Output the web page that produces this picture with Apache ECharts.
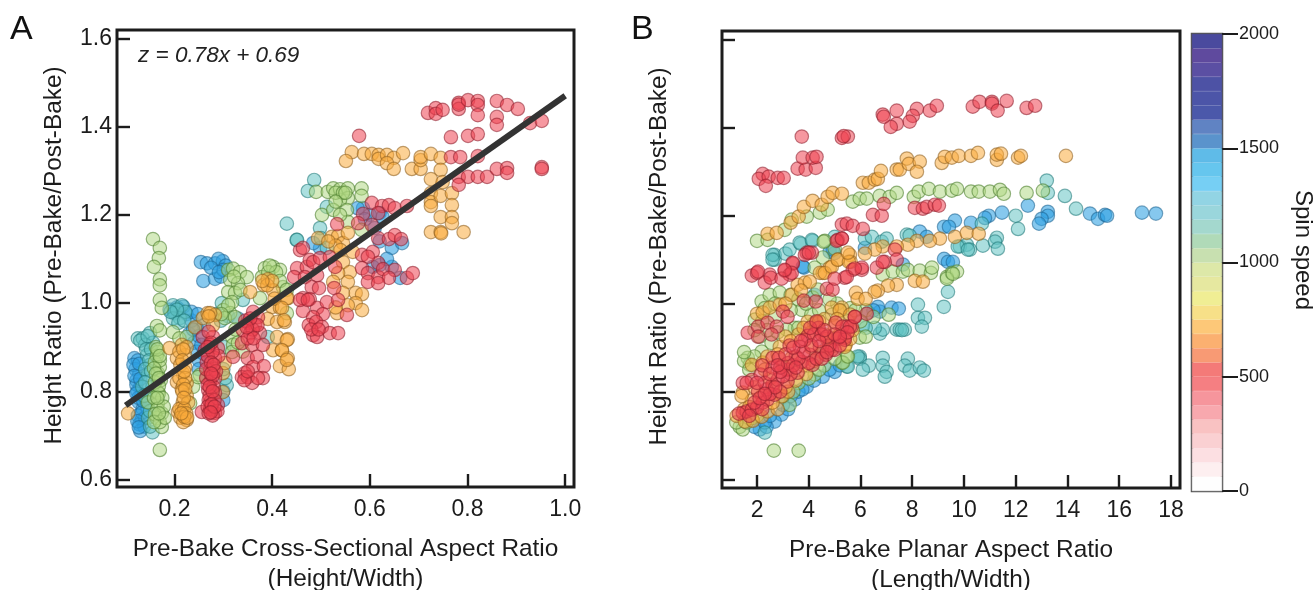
<!DOCTYPE html>
<html><head><meta charset="utf-8">
<script src="https://cdn.jsdelivr.net/npm/echarts@6/dist/echarts.min.js"></script>
<style>html,body{margin:0;padding:0;background:#fff}#c{width:1315px;height:590px}</style>
</head><body><div id="c"></div>
<script>
const xTicksA=[0.2,0.4,0.6,0.8,1.0];
const xTicksB=[2,4,6,8,10,12,14,16,18];
const yTicks=[0.6,0.8,1.0,1.2,1.4,1.6];
const fitLine=[[0.1,0.768],[1.0,1.47]];

const blueA=[[.118,.875],[.125,.87],[.12,.85],[.128,.84],[.122,.825],[.13,.81],[.124,.80],[.132,.79],[.127,.775],[.135,.76],[.125,.745],[.133,.735],[.128,.725],[.138,.72],[.13,.71],[.14,.74],[.145,.76],[.116,.86],[.122,.815],[.128,.862],[.118,.835],[.13,.828],[.126,.785],[.134,.752],[.124,.732],[.136,.778],[.127,.718],[.122,.795],
[.254,1.093],[.2665,1.09],[.283,1.09],[.299,1.095],[.29,1.10],[.305,1.085],[.259,1.05],[.283,1.055],[.295,1.06],[.30,1.075],[.275,1.08],[.291,1.07],
[.19,.985],[.2,.98],[.21,.985],[.225,.975],[.235,.96],[.23,.93],[.24,.91],[.245,.89],[.25,.87],[.25,.85],[.265,.83],[.27,.9],[.26,.95],[.31,.97],[.33,.965],[.3,.8],[.3,.78],[.205,.99],[.218,.992],[.235,.98],[.245,.945],[.25,.925],[.238,.94],[.255,.905],[.26,.885],[.248,.975],
[.645,1.125],[.666,1.136],[.62,1.14],[.586,1.215],[.575,1.215],[.62,1.204],[.626,1.195],[.645,1.082],[.662,1.057],[.62,1.086],[.606,1.082],[.498,1.125],[.484,1.136],[.6,1.2],[.61,1.17],[.635,1.1],[.59,1.19]];
const tealA=[[.125,.92],[.135,.92],[.15,.932],[.156,.91],[.14,.905],[.144,.882],[.15,.86],[.146,.837],[.134,.81],[.155,.81],[.144,.775],[.146,.74],[.155,.707],[.15,.72],[.13,.915],[.145,.925],[.142,.895],[.152,.895],[.148,.87],[.14,.85],[.152,.845],[.14,.82],[.15,.795],[.138,.79],[.15,.755],
[.197,.995],[.2,.977],[.211,.966],[.197,.965],[.215,.995],[.222,.98],[.205,.985],[.192,.98],[.208,.955],[.22,.96],[.297,1.0],[.285,.975],[.295,.96],[.45,1.143],[.486,1.279],[.473,1.254],[.43,1.18],[.451,1.143],[.498,1.17],[.512,1.218],[.5,1.147],[.512,1.125],[.307,.814],[.304,.83],[.391,.923],[.34,1.007],[.3,.85],[.302,.9]];
const greenA=[[.156,1.145],[.17,1.125],[.168,1.102],[.158,1.082],[.17,1.054],[.17,1.04],[.17,1.007],[.174,.989],[.164,.948],[.17,.938],[.166,.889],[.164,.88],[.16,.866],[.166,.841],[.17,.855],[.166,.798],[.146,.775],[.166,.773],[.168,.795],[.174,.75],[.164,.739],[.174,.719],[.17,.667],[.197,.934],[.21,.92],[.225,.923],[.252,.837],[.232,.773],[.238,.81],[.162,.9],[.17,.87],[.158,.852],[.172,.825],[.16,.82],[.168,.812],[.175,.785],[.158,.785],[.165,.76],[.178,.765],[.16,.748],[.17,.73],[.18,.74],[.158,.73],[.165,.895],[.17,.88],[.162,.84],[.168,.83],[.165,.785],[.168,.75],
[.31,1.075],[.32,1.078],[.334,1.07],[.348,1.059],[.314,1.052],[.33,1.045],[.31,1.025],[.324,1.023],[.318,1.002],[.3,.984],[.314,.977],[.303,.966],[.324,.968],[.318,.923],[.32,.905],[.318,.889],[.34,.89],[.322,1.06],[.335,1.03],[.31,.995],[.296,.975],[.325,.94],[.33,.91],
[.385,1.079],[.402,1.082],[.416,1.075],[.379,1.059],[.375,1.011],[.422,1.036],[.43,.977],[.248,.832],[.392,1.07],[.408,1.07],[.395,1.085],
[.49,1.252],[.514,1.252],[.525,1.26],[.539,1.258],[.555,1.26],[.583,1.26],[.583,1.243],[.555,1.238],[.539,1.234],[.502,1.2],[.525,1.211],[.553,1.211],[.555,1.184],[.583,1.166],[.539,1.2],[.416,1.05],[.43,1.03],[.53,1.25],[.545,1.25],[.53,1.23],[.55,1.25]];
const orangeA=[[.215,.905],[.222,.882],[.205,.875],[.217,.841],[.205,.821],[.225,.819],[.215,.805],[.225,.791],[.217,.775],[.215,.762],[.207,.753],[.217,.746],[.225,.735],[.21,.76],[.105,.75],[.19,.898],[.242,.945],[.258,.966],[.21,.89],[.225,.9],[.212,.86],[.222,.855],[.21,.83],[.222,.83],[.218,.815],[.228,.775],[.22,.76],[.212,.74],[.224,.75],[.218,.73],[.218,.895],[.216,.87],[.22,.845],[.216,.8],[.222,.805],[.219,.785],[.22,.742],[.226,.74],[.214,.75],
[.268,.977],[.283,.973],[.279,.95],[.299,.841],[.299,.798],[.303,.864],[.273,.977],[.27,.97],[.355,1.025],[.383,1.041],[.391,1.054],[.402,1.029],[.4,.991],[.416,.989],[.432,1.011],[.391,.964],[.41,.957],[.426,.957],[.41,.923],[.432,.918],[.402,.893],[.42,.893],[.432,.875],[.416,.857],[.434,.85],[.39,1.04],[.4,1.05],[.38,1.05],[.405,1.01],
[.494,1.147],[.522,1.15],[.535,1.152],[.545,1.136],[.555,1.159],[.565,1.116],[.545,1.093],[.559,1.07],[.535,1.068],[.555,1.048],[.525,1.048],[.545,1.023],[.571,1.023],[.584,1.02],[.571,1],[.555,.995],[.584,.984],[.533,.977],[.53,.99],[.53,1.13],[.515,1.14],[.54,1.12],
[.43,1.011],[.42,.989],[.424,.961],[.43,.916],[.42,.893],[.43,.871],
[.563,1.342],[.551,1.322],[.588,1.338],[.604,1.338],[.618,1.336],[.618,1.327],[.635,1.336],[.649,1.329],[.668,1.34],[.635,1.317],[.649,1.304],[.686,1.304],[.704,1.304],[.704,1.324],[.704,1.331],[.725,1.338],[.745,1.329],[.745,1.302],[.725,1.281],[.749,1.274],[.725,1.249],[.725,1.229],[.725,1.22],[.745,1.243],[.768,1.249],[.768,1.222],[.745,1.195],[.768,1.195],[.768,1.181],[.725,1.161],[.745,1.161],[.746,1.158],[.792,1.161]];
const redA=[[.578,1.379],[.719,1.431],[.735,1.442],[.735,1.429],[.749,1.438],[.782,1.454],[.782,1.44],[.782,1.45],[.801,1.46],[.821,1.458],[.821,1.449],[.821,1.426],[.86,1.458],[.881,1.449],[.903,1.44],[.86,1.422],[.86,1.404],[.928,1.408],[.952,1.413],[.766,1.376],[.801,1.379],[.821,1.383],[.766,1.331],[.785,1.331],[.821,1.333],[.782,1.286],[.801,1.286],[.821,1.286],[.84,1.286],[.782,1.268],[.86,1.304],[.881,1.306],[.881,1.295],[.952,1.308],[.952,1.304],
[.604,1.227],[.625,1.22],[.639,1.222],[.651,1.215],[.676,1.22],[.586,1.202],[.617,1.204],[.533,1.179],[.576,1.181],[.604,1.177],[.617,1.147],[.639,1.145],[.651,1.154],[.664,1.145],[.584,1.109],[.606,1.116],[.617,1.091],[.596,1.105],[.584,1.079],[.596,1.068],[.617,1.059],[.627,1.077],[.651,1.075],[.639,1.057],[.596,1.048],[.617,1.045],[.676,1.057],[.688,1.068],
[.451,1.079],[.445,1.059],[.471,1.082],[.477,1.098],[.484,1.093],[.498,1.102],[.518,1.104],[.457,1.12],[.463,1.125],[.467,1.059],[.492,1.063],[.481,1.036],[.496,1.034],[.529,1.082],[.527,1.034],[.463,1.011],[.477,1.009],[.463,.982],[.492,.989],[.512,1.002],[.535,1.007],[.504,.975],[.484,.968],[.475,.95],[.49,.957],[.502,.946],[.484,.927],[.492,.923],[.518,.932],[.535,.932],[.553,.973],[.48,.94],[.495,.94],
[.361,.98],[.371,.968],[.35,.955],[.365,.95],[.34,.939],[.355,.932],[.375,.932],[.338,.909],[.359,.905],[.381,.905],[.35,.875],[.369,.878],[.32,.878],[.361,.855],[.383,.857],[.344,.841],[.338,.832],[.35,.832],[.381,.83],[.359,.819],[.371,.83],[.345,.96],[.36,.94],[.35,.92],[.37,.95],[.343,.825],[.355,.965],[.362,.92],[.348,.945],[.35,.845],
[.258,.923],[.279,.923],[.273,.905],[.289,.898],[.262,.893],[.283,.875],[.266,.866],[.273,.848],[.283,.83],[.273,.821],[.269,.803],[.283,.796],[.273,.775],[.289,.769],[.277,.757],[.256,.753],[.283,.751],[.273,.76],[.29,.88],[.28,.85],[.265,.83],[.28,.81],[.272,.79],[.457,1.007],[.473,1.007],[.27,.935],[.268,.88],[.278,.89],[.265,.85],[.275,.865],[.285,.845],[.268,.815],[.278,.835],[.27,.78],[.282,.78],[.268,.765],[.288,.755],[.278,.745],[.27,.75],[.275,.91],[.268,.9],[.28,.86],[.275,.84],[.272,.81],[.278,.8],[.276,.77],[.282,.765],[.274,.752]];

const blueB=[[12.47,1.223],[13.24,1.209],[13.24,1.2],[13,1.193],[12.9,1.182],[14.87,1.205],[15.18,1.193],[15.45,1.202],[15.53,1.2],[16.88,1.207],[17.42,1.205],[11.47,1.207],[10.96,1.2],[10.81,1.195],[10.27,1.184],[9.65,1.189],[9.23,1.175],[9.42,1.175],[8.29,1.164],[8.56,1.152],[9.23,1.102],[9.38,1.095],[9.57,1.095],[3.81,1.082],[4.81,1.118],[5,1.115],[7.64,1.089],[6.17,1.127],
[6.75,.982],[7.2,.991],[7.48,.989],[6.67,.993],[2.95,.748],[2.68,.732],[2.11,.714],[1.9,.72],[2.37,.72],[3.92,.811],[3.46,.782],[5,.845],[3.77,1.084],[4.23,1.02],[4.93,1.123],[4.54,.834],[3.2,.76],[3.6,.8],[2.3,.73],[2.5,.745],[3,.77],[3.3,.79],[3.75,.805],[4.2,.825],[4.8,.85],[5.2,.86],[6.3,.98],[6.5,.985]];
const tealB=[[13.2,1.28],[13.24,1.252],[13.9,1.245],[14.33,1.216],[12,1.2],[12.09,1.17],[10.69,1.182],[2.68,1.111],[2.68,1.1],[3.1,1.114],[3.26,1.123],[3.69,1.136],[4.15,1.143],[5,1.152],[6.17,1.148],[6.44,1.152],[6.82,1.141],[7.01,1.148],[7.79,1.157],[7.9,1.155],[9.84,1.13],[10.11,1.134],[10.23,1.123],[10.73,1.132],[11.27,1.15],[11.2,1.141],[11.31,1.125],
[8.22,.998],[8.22,.968],[8.49,.968],[8.37,.948],[9.22,.993],[9.38,1.027],[7.4,.941],[7.52,.941],[7.71,.941],[6.75,.932],[6.86,.941],[6.55,.945],[6.09,.95],[5.97,.88],[5.97,.875],[6.32,.859],[6.09,.85],[6.86,.877],[6.86,.859],[7.01,.845],[6.94,.834],[7.83,.875],[7.71,.859],[7.9,.848],[8.29,.855],[8.45,.848],[5.47,.857],[9.76,1.13],[10.15,1.123],[2.6,1.111],[2.6,1.1],[3.65,1.139],[4.12,1.145],[2.3,.707],[5.51,.857],[5.89,.88],[7.6,.94],[6.2,.945],[4.4,.88],[4.7,.9]];
const greenB=[[2,1.143],[2.41,1.145],[3.07,1.168],[3.34,1.191],[3.92,1.198],[4.43,1.207],[4.73,1.214],[5.7,1.232],[5.97,1.239],[6.24,1.239],[6.74,1.245],[7.13,1.243],[7.4,1.252],[8.06,1.243],[8.25,1.255],[8.64,1.261],[9.07,1.255],[9.53,1.257],[9.73,1.261],[10.27,1.255],[10.57,1.255],[11,1.255],[11.39,1.259],[11.54,1.25],[12.42,1.252],[13.05,1.257],
[6.86,1.066],[7.25,1.073],[7.64,1.073],[7.83,1.077],[8.29,1.075],[8.72,1.07],[8.76,1.082],[9.34,1.061],[9.53,1.07],[9.73,1.073],[4.54,1.105],[5,1.125],[4.62,1.143],[4.23,1.082],[7.09,.975],[9.34,1.057],[9.57,1.068],[5.97,.923],[6.2,.925],[5.47,.88],[5.28,.866],
[1.33,.72],[1.45,.714],[3.26,.77],[1.64,.877],[1.72,.861],[2.18,.891],[2.56,.911],[2.18,1.005],[2.49,1.02],[2.88,1.025],[1.92,.964],[3.73,.986],[3.46,.945],[3.15,.941],[4.15,1.014],[4.35,1.032],[4.58,1.141],[5.32,.866],[5.51,.88],[4.23,.839],[2.65,.666],[3.61,.666],[5.1,1.0],[5.6,.99],[6.2,.985],[6.5,.97],[4.8,1.01],[2.2,.96],[2.7,.97],
[1.6,.73],[2,.745],[1.5,.87],[1.9,.88],[3.6,.945],[4.1,.975],[4.4,.985],[5.2,.985],[5.8,.985],[3,.79],[3.6,.82],[4.6,.86],[5,.875],[2.3,.99],[3.3,1.02],[3.6,1.01],
[1.7,.85],[2.1,.925],[2.8,.935],[1.9,.94],[2.4,.94],[3.3,.985],[3.9,1.0],[4.9,.975],[5.5,.96],[6,.96],[1.2,.73],[1.8,.74],[3.4,.8],[4,.83],[4.4,.85],[2.7,1.0],[4.2,.955],[1.5,.89]];
const orangeB=[[2.41,1.159],[2.76,1.161],[3.3,1.184],[3.61,1.198],[3.81,1.22],[4.15,1.234],[4.5,1.225],[4.73,1.243],[4.92,1.252],[5.28,1.25],[6.09,1.275],[6.32,1.275],[6.55,1.282],[6.67,1.284],[6.79,1.302],[7.4,1.305],[7.52,1.305],[7.79,1.33],[7.87,1.318],[8.29,1.323],[8.18,1.3],[9.14,1.32],[9.26,1.334],[9.53,1.332],[9.8,1.336],[10.27,1.336],[10.54,1.343],[11.27,1.327],[11.27,1.339],[11.43,1.341],[12.09,1.332],[12.2,1.336],[13.94,1.336],
[9.65,1.152],[10.11,1.161],[10.57,1.159],[9.07,1.148],[8.68,1.143],[8.18,1.143],[7.83,1.134],[7.4,1.13],[6.86,1.13],[6.55,1.123],[6.17,1.114],[5.59,1.111],[5.62,1.095],[5.12,1.1],[4.81,1.082],[4.54,1.07],
[8.1,1.052],[8.41,1.05],[7.4,1.043],[7.06,1.041],[6.67,1.03],[6.55,1.027],[5.82,1.025],[5.89,1.011],[6.2,1.011],[5.28,.991],[5.43,.907],
[1.21,.745],[1.53,.732],[1.84,.734],[2.18,.743],[2.41,.755],[1.45,.798],[2.95,.789],[1.8,.861],[2.22,.866],[2.88,.902],[3.34,.877],[3.96,.959],[4.3,.957],[4.61,.93],[5.39,.902],[4.89,.991],[5.2,.985],[2,.977],[2.22,.98],[2.49,.991],[2.88,.998],[3.34,1.02],[3.57,1.043],[3.85,1.048],[4.04,1.05],[4.43,1.07],[4.62,1.07],[4.89,1.084],[5.12,1.1],[5.55,1.095],[5.51,1.116],[2.8,.76],[3.2,.8],[3.9,.84],[4.5,.89],[5,.92],[2.5,.83],[3,.86],
[1.5,.76],[1.8,.78],[2.2,.79],[2.6,.775],[3.1,.81],[3.5,.825],[3.8,.86],[4.2,.87],[4.8,.9],[5.2,.93],[5.6,.92],[2.4,.88],[3.1,.925],[3.6,.93],[4.1,.935],[4.6,.965],[3.1,1.0],[3.7,1.03],[5.6,.975],
[1.4,.79],[1.9,.81],[2.3,.85],[2.8,.885],[3.3,.915],[3.8,.945],[4.4,.96],[5,.95],[5.7,.94],[1.7,.765],[2.6,.81],[3.3,.85],[4.1,.9],[4.7,.92],[5.1,.965]];
const redB=[[3.73,1.38],[5.28,1.377],[5.51,1.38],[5.35,1.381],[6.86,1.43],[7.4,1.439],[8.18,1.443],[8.02,1.427],[7.9,1.414],[7.4,1.409],[7.17,1.402],[6.9,1.425],[8.68,1.439],[8.95,1.45],[10.34,1.448],[10.6,1.459],[11.08,1.459],[11.08,1.455],[11.3,1.439],[11.65,1.461],[12.42,1.445],[12.75,1.45],
[2.22,1.295],[2.07,1.284],[2.45,1.289],[2.34,1.268],[2.8,1.286],[3.03,1.286],[3.57,1.307],[3.88,1.305],[4.27,1.309],[3.77,1.332],[4.15,1.332],[4.3,1.334],
[6.48,1.202],[6.82,1.2],[6.9,1.227],[8.1,1.218],[8.41,1.216],[8.56,1.22],[8.87,1.225],[9.03,1.223],[5.28,1.18],[5.47,1.182],[5.7,1.177],[6.09,1.17],[5.12,1.145],[5.28,1.148],[3.92,1.116],[4.12,1.116],[3.38,1.091],[7.33,1.123],[7.4,1.1],[6.94,1.095],[6.63,1.082],[1.8,1.064],[2,1.07],[2.49,1.066],[3.07,1.075],[3.26,1.066],[5.7,1.077],[6.05,1.077],
[6.24,.977],[5.78,.97],[5.47,.948],[5.66,.948],[5.39,.923],[6.86,1.095],[6.05,1.082],[5.39,1.059],
[1.45,.752],[1.6,.755],[1.8,.759],[2,.764],[2.22,.775],[2.41,.782],[2.68,.793],[2.04,.8],[2.37,.805],[2.6,.816],[2.8,.827],[3.18,.823],[1.45,.82],[1.8,.827],[2.14,.839],[2.6,.855],[2.6,.877],[2.84,.877],[3.15,.85],[3.57,.843],[3.3,.84],[3.73,.868],[4.04,.884],[4.15,.861],[4.43,.902],[4.66,.884],[4.89,.895],[5.12,.92],[5,.895],[5.39,.918],[3.96,.927],[3.85,.918],[3.65,.902],[3.26,.905],[4.38,.945],[5.04,.957],[5.3,.948],[5.59,.948],[5.78,.97],
[1.64,.934],[2.04,.948],[2.04,.925],[2.41,.957],[2.76,.948],[2.56,.93],[3,.982],[3.18,.97],[3.81,1.007],[4.27,1.005],[4.7,1.034],[4.92,1.032],[5,1.057],[5.47,1.061],[5.78,1.08],[2.04,1.073],[2.3,1.048],[2.53,1.059],[2.95,1.057],[3.38,1.093],[3.34,1.07],[3.07,1.077],[3.85,1.111],[4,1.116],[5.08,1.143],[5.28,1.148],
[1.3,.75],[1.7,.745],[2.2,.76],[2.5,.795],[2.9,.8],[2.3,.82],[3,.835],[3.4,.86],[2.9,.855],[3.5,.88],[4,.865],[4.3,.875],[4.5,.875],[4.8,.905],[5.2,.905],[4.2,.93],[4.5,.93],[4.7,.925],[3.6,.875],[2.2,.86],
[1.9,.775],[2.1,.785],[2.7,.81],[2.3,.795],[2.9,.845],[3.2,.865],[3.5,.855],[3.8,.89],[4.1,.905],[4.4,.915],[4.7,.89],[5,.93],[1.6,.82],[2,.82],[2.5,.84],[2.8,.86],[3.1,.885],[3.4,.9],[3.7,.915],[4.6,.94],[4.05,.945],[5.5,.935],[4.3,.96],[5.2,.925]];

const spinSegmentSize=62.5;
const spinColors=['#fefefe','#fdeff0','#fcdfe2','#fad0d2','#f9c2c2','#f8a8ae','#f6959c','#f57f82','#f47a78','#f89a74','#fbb070','#fdc878','#f7e088','#f0ee94','#e6e8a0','#dde8a8','#c8e0b0','#b0dab8','#a4d8ce','#9ad6dc','#92d4e4','#76cff4','#66c6ee','#5fbbe8','#5a93cc','#6083c3','#4b58aa','#4c55a8','#4d52a5','#5b4fa3','#5f4a9e','#4a4a9e'];

const INK='#1c1c1c';
const FONT='"Liberation Sans",Arial,sans-serif';
const pointStyles={
 blue:{color:'rgba(45,160,225,.72)',borderColor:'rgba(30,100,145,.7)'},
 teal:{color:'rgba(95,195,195,.66)',borderColor:'rgba(30,120,120,.7)'},
 green:{color:'rgba(175,215,130,.66)',borderColor:'rgba(80,130,50,.75)'},
 orange:{color:'rgba(250,170,60,.68)',borderColor:'rgba(140,95,30,.7)'},
 red:{color:'rgba(238,65,80,.68)',borderColor:'rgba(140,30,45,.7)'}
};
function scatter(name,data,idx,key){
 return {name,type:'scatter',xAxisIndex:idx,yAxisIndex:idx,data,symbolSize:13.5,
  itemStyle:Object.assign({borderWidth:1.2},pointStyles[key])};
}
function gridBox(l,t,w,h){return {left:l,top:t,width:w,height:h,outerBoundsMode:'none',show:true,borderColor:INK,borderWidth:3,backgroundColor:'#fff'};}
function valAxis(pos,grid,min,max,vals,opts){
 return Object.assign({type:'value',position:pos,gridIndex:grid,min,max,scale:true,
  splitLine:{show:false},axisLine:{show:false},
  axisTick:{show:true,inside:true,length:13,customValues:vals,lineStyle:{color:INK,width:2.4}},
  axisLabel:{show:true,customValues:vals,color:INK,fontFamily:FONT,fontSize:23,margin:11},
  nameLocation:'middle',nameTextStyle:{color:INK,fontFamily:FONT,fontSize:24.4,lineHeight:30}},opts||{});
}
const dec1={formatter:v=>v.toFixed(1)};
const yNameStyle={color:INK,fontFamily:FONT,fontSize:24.4,lineHeight:30,padding:[0,0,0,6]};
const option={animation:false,backgroundColor:'#fff',
 textStyle:{fontFamily:FONT},
 grid:[gridBox(117,30,457,457),gridBox(722,31,458,457),
  {left:1192,top:34,width:30,height:457,outerBoundsMode:'none',show:true,borderColor:'#555',borderWidth:2.5,backgroundColor:'#fff'}],
 xAxis:[
  valAxis('bottom',0,0.0823,1.018,xTicksA,{name:'Pre-Bake Cross-Sectional Aspect Ratio\n(Height/Width)',nameGap:47,
    axisLabel:Object.assign({show:true,customValues:xTicksA,color:INK,fontFamily:FONT,fontSize:23,margin:11},dec1)}),
  valAxis('bottom',1,0.646,18.35,xTicksB,{name:'Pre-Bake Planar Aspect Ratio\n(Length/Width)',nameGap:47}),
  {type:'category',gridIndex:2,data:['spin'],show:false,boundaryGap:true}
 ],
 yAxis:[
  valAxis('left',0,0.583,1.619,yTicks,{name:'Height Ratio (Pre-Bake/Post-Bake)',nameGap:48,nameTextStyle:yNameStyle,
    axisLabel:Object.assign({show:true,customValues:yTicks,color:INK,fontFamily:FONT,fontSize:23,margin:5},dec1)}),
  valAxis('left',1,0.581,1.62,yTicks,{name:'Height Ratio (Pre-Bake/Post-Bake)',nameGap:48,nameTextStyle:yNameStyle,axisLabel:{show:false}}),
  {type:'value',gridIndex:2,position:'right',min:0,max:2000,interval:500,splitLine:{show:false},axisLine:{show:false},
   axisTick:{show:true,inside:false,length:16,lineStyle:{color:INK,width:2}},
   axisLabel:{show:true,color:INK,fontFamily:FONT,fontSize:18,margin:17,formatter:v=>String(v)}}
 ],
 graphic:[
  {type:'text',left:10,top:13,style:{text:'A',fontFamily:FONT,fontSize:34,fill:'#111'}},
  {type:'text',left:631,top:13,style:{text:'B',fontFamily:FONT,fontSize:34,fill:'#111'}},
  {type:'text',left:138,top:44,style:{text:'z = 0.78x + 0.69',fontFamily:FONT,fontSize:22.5,fontStyle:'italic',fill:'#222'}},
  {type:'text',x:1303,y:250,rotation:-Math.PI/2,style:{text:'Spin speed',fontFamily:FONT,fontSize:24,fill:INK,textAlign:'center',textVerticalAlign:'middle'}}
 ],
 series:[
  scatter('A 1500',blueA,0,'blue'),scatter('A 1250',tealA,0,'teal'),scatter('A 1000',greenA,0,'green'),scatter('A 750',orangeA,0,'orange'),scatter('A 500',redA,0,'red'),
  {name:'Fit',type:'line',xAxisIndex:0,yAxisIndex:0,data:fitLine,showSymbol:false,symbol:'none',z:10,lineStyle:{color:'#333',width:6}},
  scatter('B 1500',blueB,1,'blue'),scatter('B 1250',tealB,1,'teal'),scatter('B 1000',greenB,1,'green'),scatter('B 750',orangeB,1,'orange'),scatter('B 500',redB,1,'red')
 ].concat(spinColors.map((c,i)=>({name:'spin'+i,type:'bar',stack:'spin',xAxisIndex:2,yAxisIndex:2,data:[spinSegmentSize],barWidth:'100%',itemStyle:{color:c,borderColor:c,borderWidth:0.4}})))
};
echarts.init(document.getElementById('c')).setOption(option);
</script></body></html>
